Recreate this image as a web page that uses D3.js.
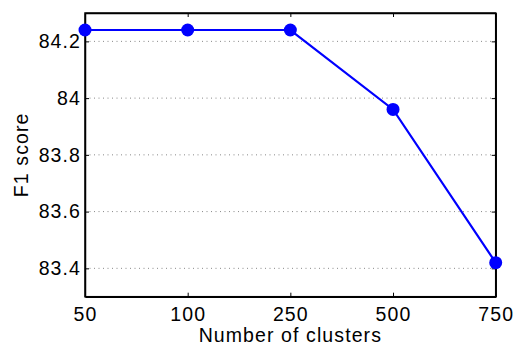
<!DOCTYPE html>
<html><head><meta charset="utf-8">
<script src="https://cdn.jsdelivr.net/npm/d3@7"></script>
<style>body{margin:0;background:#fff}svg{display:block}text{font-family:"Liberation Sans",Arial,sans-serif;fill:#000}</style>
</head><body>
<script>
const categories = ["50","100","250","500","750"];
const f1Scores = [84.24, 84.24, 84.24, 83.96, 83.42];
const yTicks = [83.4, 83.6, 83.8, 84, 84.2];
const yDomain = [83.3, 84.3];

const W = 515, H = 346;
const m = {left: 85, right: 19.3, top: 13, bottom: 49.3};
const svg = d3.select("body").append("svg").attr("width", W).attr("height", H);
const x = d3.scalePoint().domain(categories).range([m.left, W - m.right]).padding(0);
const y = d3.scaleLinear().domain(yDomain).range([H - m.bottom, m.top]);
const fs = 19.5, ls = 1.1;

// gridlines
svg.append("g").selectAll("line").data(yTicks).join("line")
  .attr("x1", m.left).attr("x2", W - m.right)
  .attr("y1", d => y(d)).attr("y2", d => y(d))
  .attr("stroke", "#888").attr("stroke-width", 1).attr("stroke-dasharray", "1,3.5");

const fmt = d => d3.format("")(+d.toFixed(1));
// axes
const axB = svg.append("g").attr("transform", `translate(0,${H - m.bottom})`)
  .call(d3.axisBottom(x).tickSizeInner(-4).tickSizeOuter(0).tickPadding(10));
const axT = svg.append("g").attr("transform", `translate(0,${m.top})`)
  .call(d3.axisTop(x).tickSizeInner(-4).tickSizeOuter(0).tickFormat(""));
const axL = svg.append("g").attr("transform", `translate(${m.left},0)`)
  .call(d3.axisLeft(y).tickValues(yTicks).tickSizeInner(-4).tickSizeOuter(0).tickPadding(4).tickFormat(fmt));
const axR = svg.append("g").attr("transform", `translate(${W - m.right},0)`)
  .call(d3.axisRight(y).tickValues(yTicks).tickSizeInner(-4).tickSizeOuter(0).tickFormat(""));
[axB, axT, axL, axR].forEach(g => {
  g.select(".domain").attr("stroke", "#000").attr("stroke-width", 1.5);
  g.selectAll(".tick line").attr("stroke", "#000").attr("stroke-width", 1);
  g.selectAll("text").attr("font-size", fs).attr("letter-spacing", ls)
    .attr("font-family", "Liberation Sans, Arial, sans-serif").attr("fill", "#000");
});
svg.append("rect").attr("x", m.left).attr("y", m.top)
  .attr("width", W - m.right - m.left).attr("height", H - m.bottom - m.top)
  .attr("fill", "none").attr("stroke", "#000").attr("stroke-width", 1.5);

// line
const line = d3.line().x((d, i) => x(categories[i])).y(d => y(d));
svg.append("path").datum(f1Scores).attr("d", line)
  .attr("fill", "none").attr("stroke", "#0000ff").attr("stroke-width", 2.2);
svg.append("g").selectAll("circle").data(f1Scores).join("circle")
  .attr("cx", (d, i) => x(categories[i])).attr("cy", d => y(d)).attr("r", 6.5)
  .attr("fill", "#0000ff");

// titles
svg.append("text").attr("x", (m.left + W - m.right) / 2).attr("y", 342)
  .attr("text-anchor", "middle").attr("font-size", fs).attr("letter-spacing", ls).text("Number of clusters");
svg.append("text").attr("transform", `translate(28,${(m.top + H - m.bottom) / 2}) rotate(-90)`)
  .attr("text-anchor", "middle").attr("font-size", fs).attr("letter-spacing", ls).text("F1 score");
</script>
</body></html>
